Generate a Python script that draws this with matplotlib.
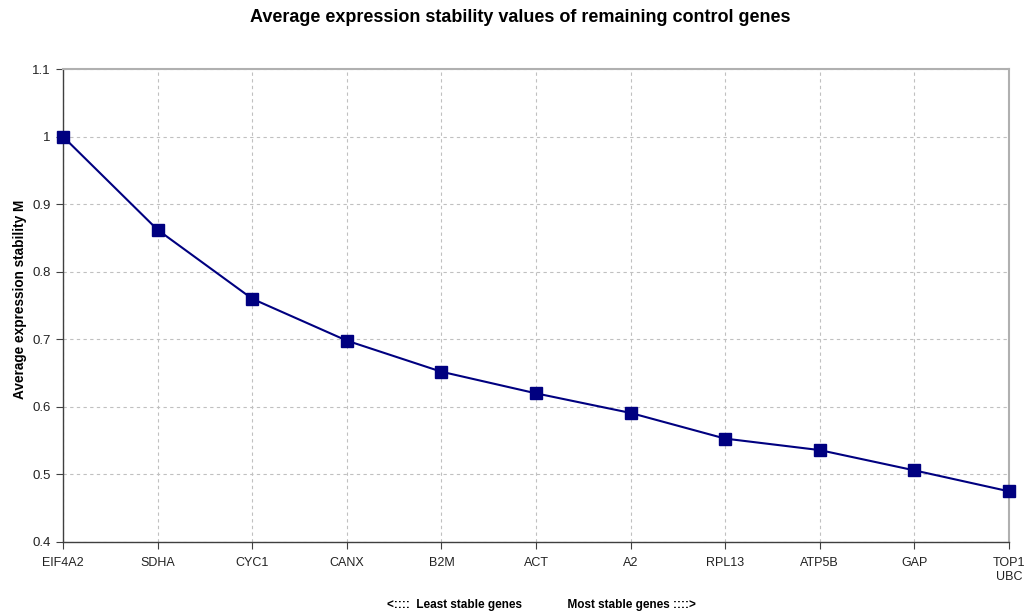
import matplotlib
matplotlib.use("Agg")
import matplotlib.pyplot as plt

genes = ["EIF4A2", "SDHA", "CYC1", "CANX", "B2M", "ACT", "A2", "RPL13", "ATP5B", "GAP", "TOP1\nUBC"]
m_values = [1.000, 0.862, 0.760, 0.698, 0.652, 0.620, 0.591, 0.553, 0.536, 0.506, 0.475]
y_ticks = [0.4, 0.5, 0.6, 0.7, 0.8, 0.9, 1.0, 1.1]
y_tick_labels = ["0.4", "0.5", "0.6", "0.7", "0.8", "0.9", "1", "1.1"]

plt.rcParams['font.family'] = ['Liberation Sans', 'DejaVu Sans']

fig = plt.figure(figsize=(10.3, 6.13), dpi=100)
ax = fig.add_axes([63/1030, 1 - 542/613, (1009 - 63)/1030, (542 - 69)/613])

x = list(range(len(genes)))
ax.plot(x, m_values, color="#000080", lw=1.5, marker="s", markersize=8,
        markerfacecolor="#000080", markeredgecolor="#000080", clip_on=False, zorder=3)

ax.set_xlim(0, len(genes) - 1)
ax.set_ylim(0.4, 1.1)
ax.set_yticks(y_ticks)
ax.set_yticklabels(y_tick_labels, fontsize=9.5, color="#222222")
ax.set_xticks(x)
ax.set_xticklabels(genes, fontsize=9, color="#222222")
ax.grid(True, color="#c0c0c0", linestyle=(0, (3, 3)), linewidth=0.8)
ax.set_axisbelow(True)

for side in ["top", "right"]:
    ax.spines[side].set_color("#b0b0b0")
    ax.spines[side].set_linewidth(1.5)
for side in ["left", "bottom"]:
    ax.spines[side].set_color("#404040")
    ax.spines[side].set_linewidth(1.0)
ax.tick_params(axis="y", direction="out", length=5, color="#404040", pad=4)
ax.tick_params(axis="x", direction="out", length=5, color="#404040", pad=6)

ax.set_ylabel("Average expression stability M", fontsize=9.8, fontweight="bold")
ax.yaxis.set_label_coords((27 - 63) / 946, (542 - 299) / 473)
fig.text(520 / 1030, 1 - 18/613, "Average expression stability values of remaining control genes",
         ha="center", va="center", fontsize=13, fontweight="bold")
fig.text(0.526, 1 - 605/613, "<::::  Least stable genes              Most stable genes ::::>",
         ha="center", va="center", fontsize=8.5, fontweight="bold")

fig.savefig("out.png", dpi=100)
